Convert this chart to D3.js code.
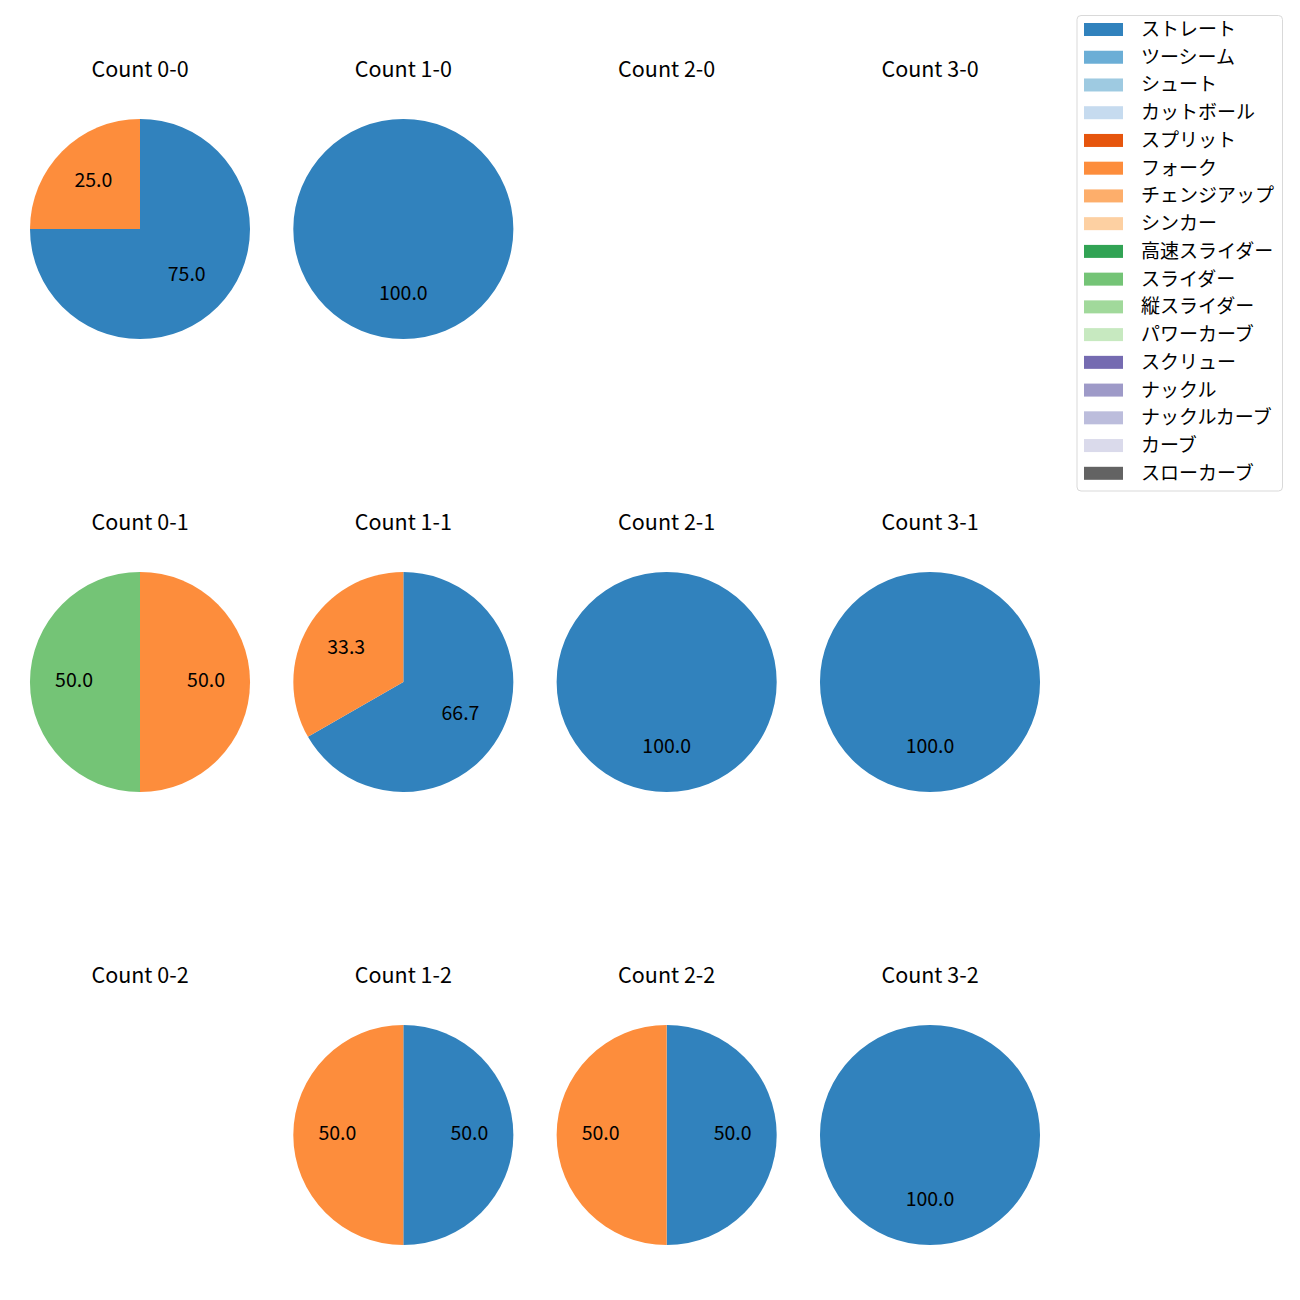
<!DOCTYPE html>
<html><head><meta charset="utf-8">
<script src="https://cdn.jsdelivr.net/npm/d3@7"></script>
<style>body{margin:0;background:#fff}svg{display:block}text{font-family:"Noto Sans CJK JP","Noto Sans",sans-serif;fill:#000}</style>
</head><body><svg id="c" width="1300" height="1300"></svg>
<script>
const pitchTypes = ["ストレート","ツーシーム","シュート","カットボール","スプリット","フォーク","チェンジアップ","シンカー","高速スライダー","スライダー","縦スライダー","パワーカーブ","スクリュー","ナックル","ナックルカーブ","カーブ","スローカーブ"];
const pitchColors = ["#3182bd","#6baed6","#9ecae1","#c6dbef","#e6550d","#fd8d3c","#fdae6b","#fdd0a2","#31a354","#74c476","#a1d99b","#c7e9c0","#756bb1","#9e9ac8","#bcbddc","#dadaeb","#636363"];
const balls = [0,1,2,3];
const strikes = [0,1,2];
// values per count, [pitch type, percent]
const count00 = [["ストレート",75.0],["フォーク",25.0]];
const count10 = [["ストレート",100.0]];
const count20 = [];
const count30 = [];
const count01 = [["フォーク",50.0],["スライダー",50.0]];
const count11 = [["ストレート",66.7],["フォーク",33.3]];
const count21 = [["ストレート",100.0]];
const count31 = [["ストレート",100.0]];
const count02 = [];
const count12 = [["ストレート",50.0],["フォーク",50.0]];
const count22 = [["ストレート",50.0],["フォーク",50.0]];
const count32 = [["ストレート",100.0]];
const countData = {"0-0":count00,"1-0":count10,"2-0":count20,"3-0":count30,
  "0-1":count01,"1-1":count11,"2-1":count21,"3-1":count31,
  "0-2":count02,"1-2":count12,"2-2":count22,"3-2":count32};

const svg = d3.select("#c");
const color = d3.scaleOrdinal().domain(pitchTypes).range(pitchColors);
const xPos = d3.scaleLinear().domain([0,3]).range([140,930]);
const yPos = d3.scaleLinear().domain([0,2]).range([229,1135]);
const R = 110;
const pie = d3.pie().sort(null).value(d=>d[1]).startAngle(0).endAngle(2*Math.PI);
const arc = d3.arc().innerRadius(0).outerRadius(R);
const labelArc = d3.arc().innerRadius(R*0.6).outerRadius(R*0.6);

strikes.forEach(s=>{
  balls.forEach(b=>{
    const key = b+"-"+s;
    const g = svg.append("g").attr("transform",`translate(${xPos(b)},${yPos(s)})`);
    g.append("text").attr("x",0).attr("y",-162).attr("text-anchor","middle")
      .attr("dominant-baseline","central").style("font-size","21.5px").text("Count "+key);
    const arcs = pie(countData[key]);
    g.selectAll("path").data(arcs).join("path").attr("d",arc).attr("fill",d=>color(d.data[0]));
    g.selectAll("text.lbl").data(arcs).join("text").attr("class","lbl")
      .attr("transform",d=>`translate(${labelArc.centroid(d)})`)
      .attr("dy",-3.5)
      .attr("text-anchor","middle").attr("dominant-baseline","central")
      .style("font-size","19.5px").text(d=>d.data[1].toFixed(1));
  });
});

// legend
const lg = svg.append("g");
lg.append("rect").attr("x",1077).attr("y",15.5).attr("width",205.5).attr("height",475.5)
  .attr("rx",4).attr("fill","#fff").attr("stroke","#d9d9d9").attr("stroke-width",1);
const ly = d3.scaleLinear().domain([0,pitchTypes.length-1]).range([29.5,473.3]);
pitchTypes.forEach((p,i)=>{
  lg.append("rect").attr("x",1084).attr("y",ly(i)-6.5).attr("width",39).attr("height",13).attr("fill",color(p));
  lg.append("text").attr("x",1141).attr("y",ly(i)-2).attr("dominant-baseline","central")
    .style("font-size","19px").text(p);
});
</script></body></html>
